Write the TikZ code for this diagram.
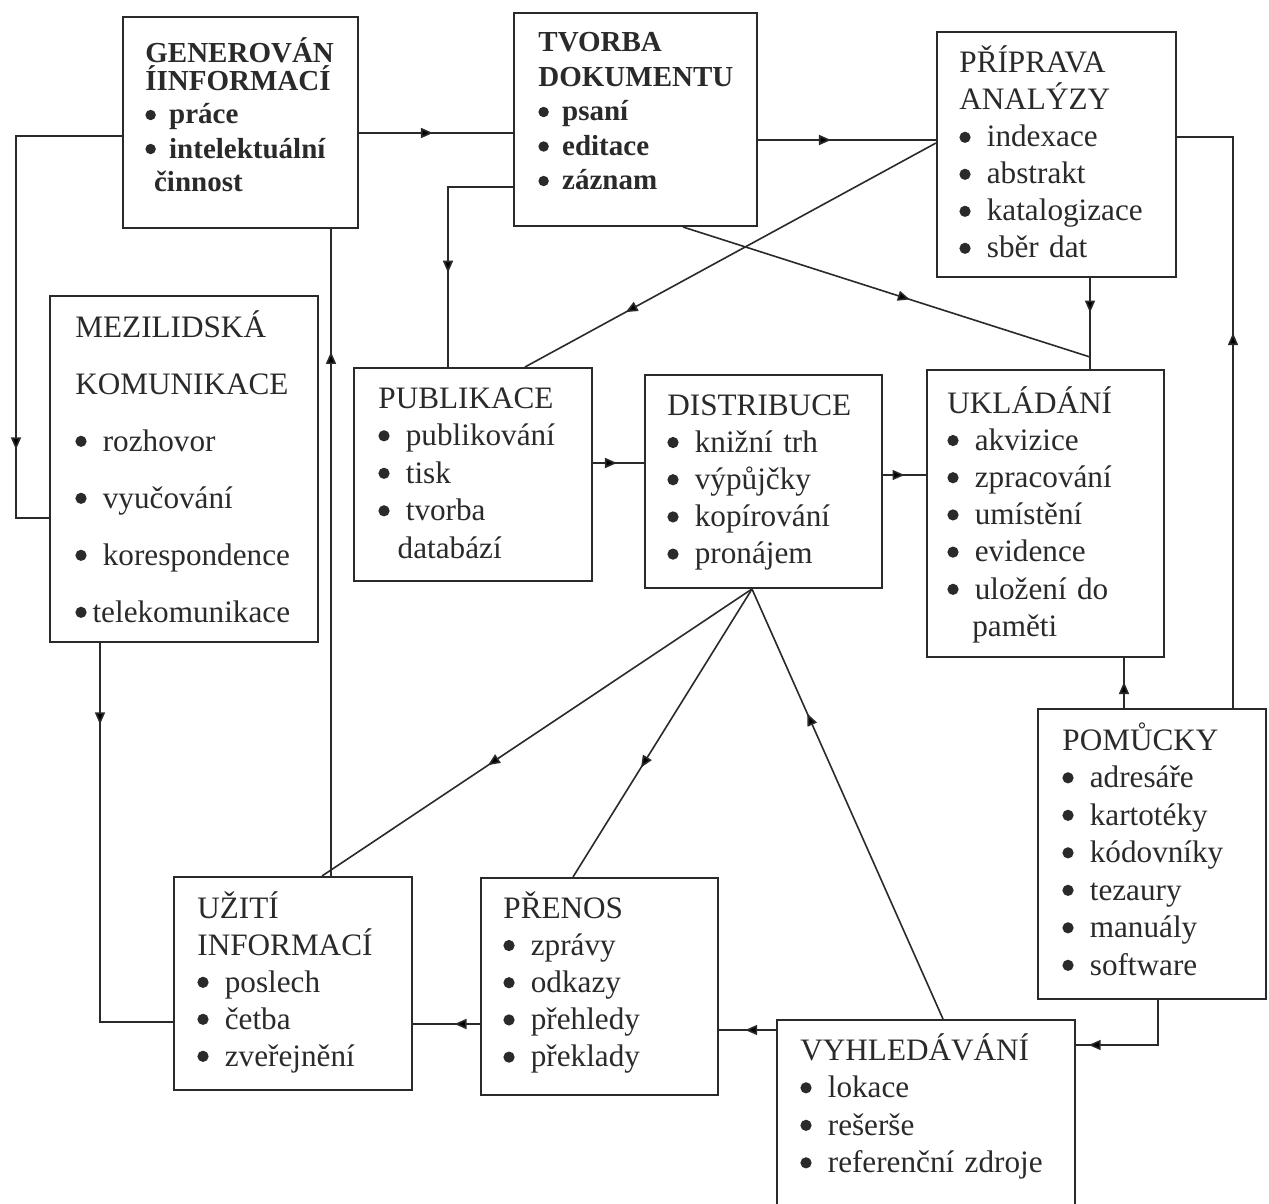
\documentclass[tikz,border=0pt]{standalone}
\usepackage{fontspec}
\setmainfont{Liberation Serif}
\usetikzlibrary{arrows.meta,decorations.markings,fit}
\definecolor{ink}{RGB}{42,42,42}
\newcommand\dotb{\tikz[baseline=0pt]\fill[ink] (0,0.31em) circle (0.18em);}
\newcommand\bul{\makebox[0.88em][l]{\dotb}}
\newcommand\bulb{\makebox[0.82em][l]{\dotb}}
\newcommand\bult{\makebox[0.55em][l]{\dotb}}
\begin{document}
\begin{tikzpicture}[x=0.5pt,y=-0.5pt,
  boxst/.style={draw=ink,line width=1pt,inner sep=0pt},
  txt/.style={anchor=base west,inner sep=0pt,text width=9cm,align=left,text=ink,font={\fontsize{15.6pt}{#1}\selectfont}},
  btxt/.style={anchor=base west,inner sep=0pt,text width=9cm,align=left,text=ink,font={\fontsize{14.5pt}{#1}\selectfont\bfseries}},
  conn/.style={draw=ink,line width=0.8pt},
  midarr/.style={postaction={decorate},decoration={markings,mark=at position #1 with {\arrow{Triangle[length=6pt,width=5pt]}}}}]
\useasboundingbox (0,0) rectangle (1269,1204);
\fill[white] (0,0) rectangle (1269,1204);
\clip (0,0) rectangle (1269,1204);

% boxes
\node[boxst,fit={(123,17) (358,228)}] (gen) {};
\node[boxst,fit={(514,13) (757,226)}] (tvo) {};
\node[boxst,fit={(937,32) (1176,277)}] (pri) {};
\node[boxst,fit={(50,296) (318,642)}] (mez) {};
\node[boxst,fit={(354,368) (592,581)}] (pub) {};
\node[boxst,fit={(645,375) (882,588)}] (dis) {};
\node[boxst,fit={(927,370) (1164,657)}] (ukl) {};
\node[boxst,fit={(1038,709) (1266,999)}] (pom) {};
\node[boxst,fit={(777,1020) (1075,1230)}] (vyh) {};
\node[boxst,fit={(174,877) (412,1090)}] (uzi) {};
\node[boxst,fit={(481,878) (718,1095)}] (pre) {};

% texts
\node[btxt=17pt] (gen-t) at (145,63) {GENEROVÁN\\[-3.5pt]ÍINFORMACÍ\\\bulb práce\\\bulb intelektuální\\\hspace*{0.3em}činnost};
\node[btxt=17.25pt] (tvo-t) at (538,52) {TVORBA\\DOKUMENTU\\\bulb psaní\\\bulb editace\\\bulb záznam};
\node[txt=18.5pt] (pri-t) at (959,73) {PŘÍPRAVA\\ANALÝZY\\\bul indexace\\\bul abstrakt\\\bul katalogizace\\\bul sběr dat};
\node[txt=28.5pt] (mez-t) at (75,337) {MEZILIDSKÁ\\KOMUNIKACE\\\bul rozhovor\\\bul vyučování\\\bul korespondence\\\bult telekomunikace};
\node[txt=18.75pt] (pub-t) at (378,408) {PUBLIKACE\\\bul publikování\\\bul tisk\\\bul tvorba\\\hspace*{0.62em}databází};
\node[txt=18.6pt] (dis-t) at (667,415) {DISTRIBUCE\\\bul knižní trh\\\bul výpůjčky\\\bul kopírování\\\bul pronájem};
\node[txt=18.6pt] (ukl-t) at (947,413) {UKLÁDÁNÍ\\\bul akvizice\\\bul zpracování\\\bul umístění\\\bul evidence\\\bul uložení do\\\hspace*{0.8em}paměti};
\node[txt=18.75pt] (pom-t) at (1062,750) {POMŮCKY\\\bul adresáře\\\bul kartotéky\\\bul kódovníky\\\bul tezaury\\\bul manuály\\\bul software};
\node[txt=18.75pt] (vyh-t) at (800,1060) {VYHLEDÁVÁNÍ\\\bul lokace\\\bul rešerše\\\bul referenční zdroje};
\node[txt=18.5pt] (uzi-t) at (197,918) {UŽITÍ\\INFORMACÍ\\\bul poslech\\\bul četba\\\bul zveřejnění};
\node[txt=18.6pt] (pre-t) at (503,918) {PŘENOS\\\bul zprávy\\\bul odkazy\\\bul přehledy\\\bul překlady};

% helper coordinates
\coordinate (g1) at (16,136);
\coordinate (g2) at (16,518);
\coordinate (t1) at (448,187);
\coordinate (j1) at (1090,357);
\coordinate (ap) at (dis.south -| 752,0);
\coordinate (m1) at (100,1022);
\coordinate (p1) at (1233,137);
\coordinate (p2) at (1158,1045);

% connectors
\draw[conn,midarr=0.48] (gen.east |- 0,133) -- (tvo.west |- 0,133);
\draw[conn,midarr=0.805] (gen.west |- g1) -- (g1) -- (g2) -- (mez.west |- g2);
\draw[conn,midarr=0.81] (uzi.north -| 331,0) -- (gen.south -| 331,0);
\draw[conn,midarr=0.41] (tvo.east |- 0,140) -- (pri.west |- 0,140);
\draw[conn,midarr=0.615] (tvo.west |- t1) -- (t1) -- (pub.north -| t1);
\draw[conn,midarr=0.755] (pri.west |- 0,143) -- (pub.north -| 525,0);
\draw[conn,midarr=0.542] (tvo.south -| 683,0) -- (j1) -- (ukl.north -| j1);
\draw[conn,midarr=0.38] (pri.south -| j1) -- (ukl.north -| j1);
\draw[conn,midarr=0.47] (pub.east |- 0,463) -- (dis.west |- 0,463);
\draw[conn,midarr=0.5] (dis.east |- 0,475) -- (ukl.west |- 0,475);
\draw[conn,midarr=0.614] (ap) -- (uzi.north -| 322,0);
\draw[conn,midarr=0.62] (ap) -- (pre.north -| 573,0);
\draw[conn,midarr=0.71] (vyh.north -| 943,0) -- (ap);
\draw[conn,midarr=0.18] (mez.south -| m1) -- (m1) -- (uzi.west |- m1);
\draw[conn,midarr=0.38] (pre.west |- 0,1024) -- (uzi.east |- 0,1024);
\draw[conn,midarr=0.54] (vyh.west |- 0,1030) -- (pre.east |- 0,1030);
\draw[conn,midarr=0.52] (pom.north -| 1124,0) -- (ukl.south -| 1124,0);
\draw[conn,midarr=0.598] (pom.north -| p1) -- (p1) -- (pri.east |- p1);
\draw[conn,midarr=0.9] (pom.south -| p2) -- (p2) -- (vyh.east |- p2);
\end{tikzpicture}
\end{document}
